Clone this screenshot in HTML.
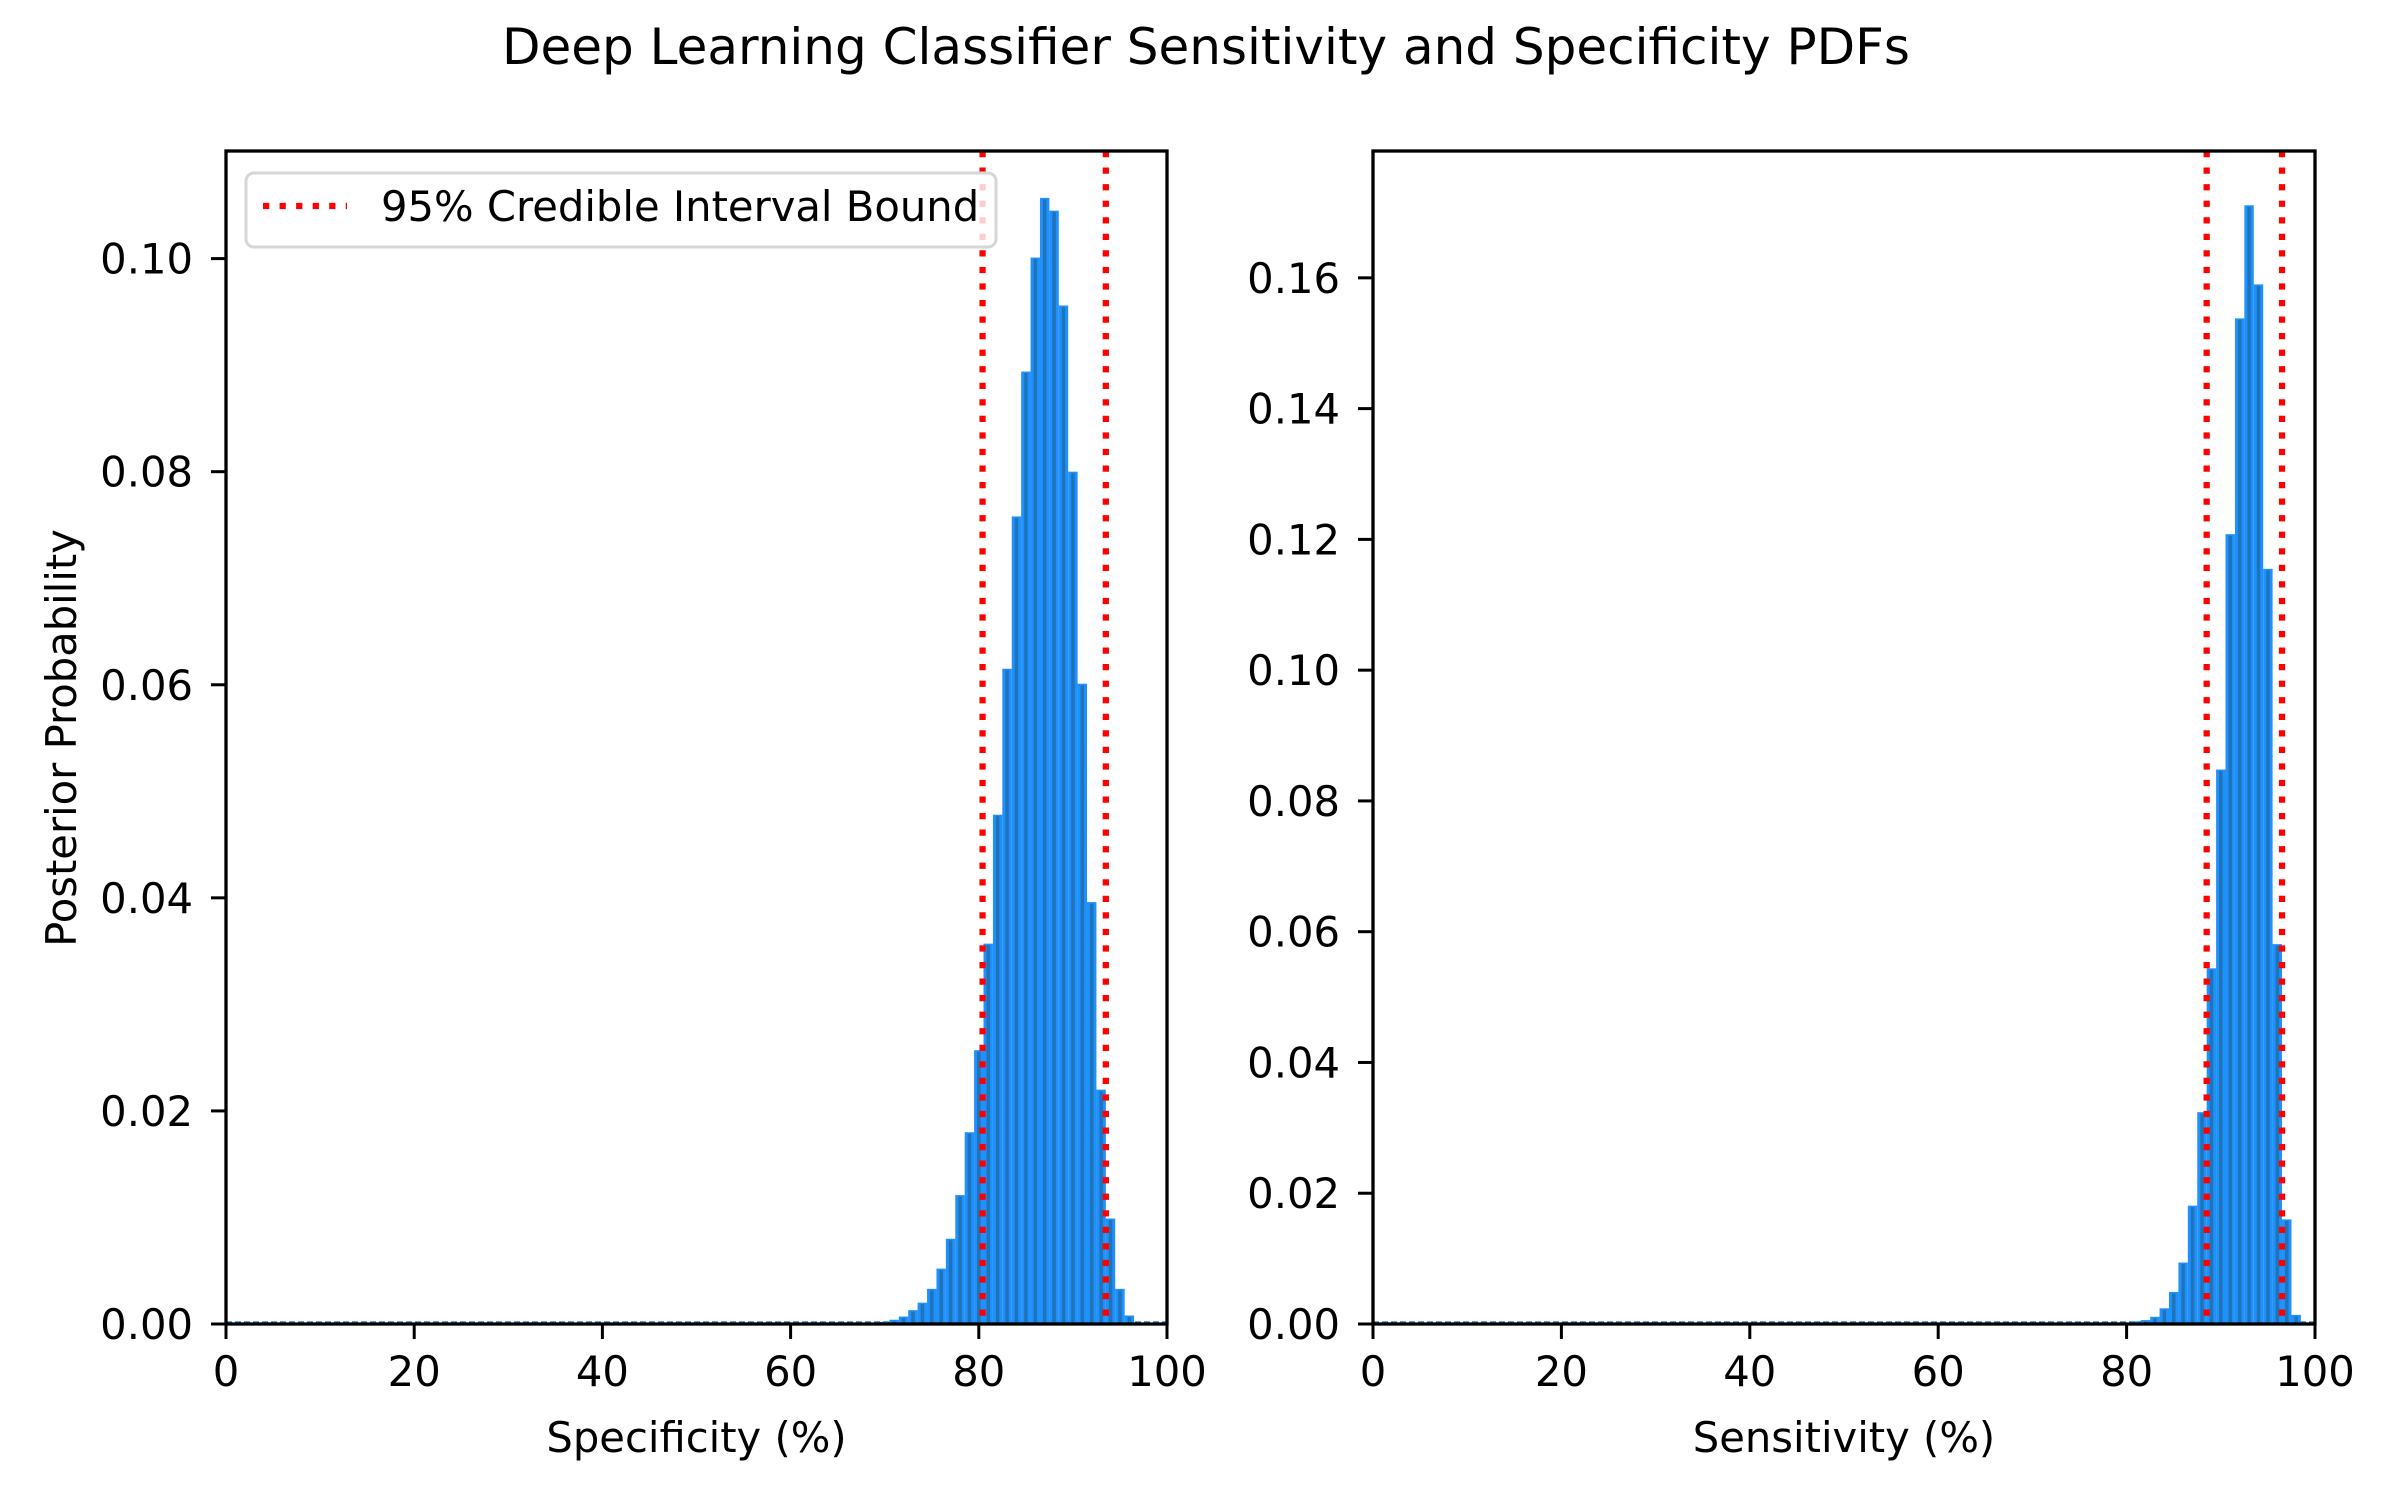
<!DOCTYPE html>
<html><head><meta charset="utf-8"><style>
html,body{margin:0;padding:0;background:#fff;}
svg{display:block;font-family:"DejaVu Sans","Liberation Sans",sans-serif;}
</style></head><body>
<svg id="fig" width="2400" height="1500" viewBox="0 0 2400 1500" xmlns="http://www.w3.org/2000/svg">
<rect width="2400" height="1500" fill="#fff"/>
<text x="1206" y="64" font-size="50" text-anchor="middle">Deep Learning Classifier Sensitivity and Specificity PDFs</text>
<g id="left"></g>
<g id="right"></g>
</svg>
<script>
const specCenters = [69,70,71,72,73,74,75,76,77,78,79,80,81,82,83,84,85,86,87,88,89,90,91,92,93,94,95,96,97];
const specValues  = [0.0001,0.0002,0.0004,0.0007,0.0013,0.0020,0.0033,0.0052,0.0080,0.0121,0.0180,0.0257,0.0357,0.0478,0.0615,0.0758,0.0894,0.1001,0.1057,0.1045,0.0956,0.0800,0.0601,0.0396,0.0220,0.0099,0.0033,0.0008,0.0001];
const specBounds  = [80.4, 93.5];
const specTicksY  = ["0.00","0.02","0.04","0.06","0.08","0.10"];
const sensCenters = [81,82,83,84,85,86,87,88,89,90,91,92,93,94,95,96,97,98];
const sensValues  = [0.0004,0.0006,0.0011,0.0024,0.0049,0.0094,0.0181,0.0324,0.0544,0.0848,0.1208,0.1538,0.1711,0.1590,0.1155,0.0581,0.0160,0.0014];
const sensBounds  = [88.5, 96.5];
const sensTicksY  = ["0.00","0.02","0.04","0.06","0.08","0.10","0.12","0.14","0.16"];
const xTicks      = ["0","20","40","60","80","100"];

const NS = "http://www.w3.org/2000/svg";
function mk(parent, tag, attrs){
  const e = document.createElementNS(NS, tag);
  for (const k in attrs) e.setAttribute(k, attrs[k]);
  parent.appendChild(e); return e;
}
function panel(g, x0, x1, y0, y1, ymax, centers, values, bounds, yticks, xlabel, showLegend, showYLabel){
  const sx = v => x0 + (v/100)*(x1-x0);
  const sy = v => y1 - (v/ymax)*(y1-y0);
  // baseline dashed
  const base = mk(g,'line',{x1:x0,x2:x1,y1:y1-2,y2:y1-2,stroke:'#3b7fc4','stroke-width':1.6,'stroke-dasharray':'6 3'});
  
  
  centers.forEach((c,i)=>{
    const v = values[i];
    const xl = sx(c-0.5), w = sx(c+0.5)-xl, yt = sy(v);
    const r = mk(g,'rect',{x:xl,y:yt,width:w,height:y1-yt,fill:'#1E90FF'});
    
    
    const s = mk(g,'rect',{x:xl+3,y:yt+1.5,width:3.5,height:Math.max(0,y1-yt-1.5),fill:'#1f74b8'});
    
    
  });
  bounds.forEach((b,i)=>{
    const l = mk(g,'line',{x1:sx(b),x2:sx(b),y1:y0,y2:y1,stroke:'#ff0000','stroke-width':6.25,'stroke-dasharray':'6.25 10.3'});
    
    
  });
  const fr = mk(g,'rect',{x:x0,y:y0,width:x1-x0,height:y1-y0,fill:'none',stroke:'#000','stroke-width':3.3});
  
  
  xTicks.forEach(t=>{
    const x = sx(+t);
    const tk = mk(g,'line',{x1:x,x2:x,y1:y1,y2:y1+15,stroke:'#000','stroke-width':3});
    
    
    const tx = mk(g,'text',{x:x,y:y1+62,'font-size':41.7,'text-anchor':'middle'});
    tx.textContent = t;
    
    
  });
  yticks.forEach(t=>{
    const y = sy(+t);
    const tk = mk(g,'line',{x1:x0-15,x2:x0,y1:y,y2:y,stroke:'#000','stroke-width':3});
    
    
    const tx = mk(g,'text',{x:x0-33,y:y+15,'font-size':41.7,'text-anchor':'end'});
    tx.textContent = t;
    
    
  });
  const xl = mk(g,'text',{x:(x0+x1)/2,y:1452,'font-size':41.7,'text-anchor':'middle'});
  xl.textContent = xlabel;
  
  
  if (showYLabel){
    const yl = mk(g,'text',{x:0,y:0,'font-size':41.7,'text-anchor':'middle',transform:'translate(76,738) rotate(-90)'});
    yl.textContent = 'Posterior Probability';
    
    
  }
  if (showLegend){
    const lg = mk(g,'g',{});
    
    
    mk(lg,'rect',{x:246,y:173,width:750,height:74,rx:8,fill:'#fff','fill-opacity':0.8,stroke:'#d6d6d6','stroke-width':3});
    const ln = mk(lg,'line',{x1:263,x2:347,y1:206,y2:206,stroke:'#ff0000','stroke-width':6.25,'stroke-dasharray':'6.25 10.3'});
    
    
    const lt = mk(lg,'text',{x:381,y:221,'font-size':41.7});
    lt.textContent = '95% Credible Interval Bound';
    
    
  }
}
panel(document.getElementById('left'), 226, 1167, 151, 1324, 0.1101, specCenters, specValues, specBounds, specTicksY, 'Specificity (%)', true, true);
panel(document.getElementById('right'), 1373, 2315, 151, 1324, 0.1794, sensCenters, sensValues, sensBounds, sensTicksY, 'Sensitivity (%)', false, false);
</script>
</body></html>
